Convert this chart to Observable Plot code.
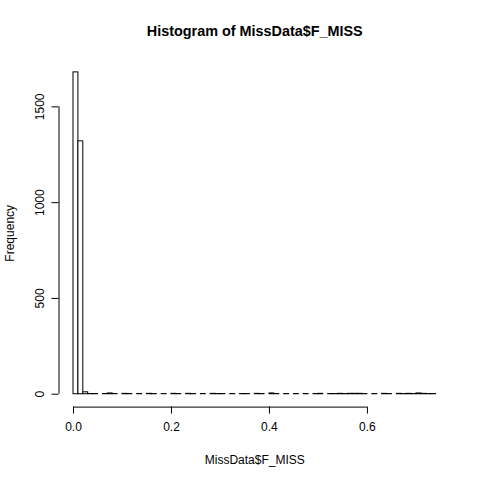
<!DOCTYPE html>
<html>
<head>
<meta charset="utf-8">
<script src="https://cdn.jsdelivr.net/npm/d3@7"></script>
<script src="https://cdn.jsdelivr.net/npm/@observablehq/plot@0.6"></script>
<style>
  html, body { margin: 0; padding: 0; background: white; }
</style>
</head>
<body>
<div id="chart"></div>
<script>
// Bin edges (F_MISS), width 0.01
const breaks = [
  0.00, 0.01, 0.02, 0.03, 0.04, 0.05, 0.06, 0.07, 0.08, 0.09,
  0.10, 0.11, 0.12, 0.13, 0.14, 0.15, 0.16, 0.17, 0.18, 0.19,
  0.20, 0.21, 0.22, 0.23, 0.24, 0.25, 0.26, 0.27, 0.28, 0.29,
  0.30, 0.31, 0.32, 0.33, 0.34, 0.35, 0.36, 0.37, 0.38, 0.39,
  0.40, 0.41, 0.42, 0.43, 0.44, 0.45, 0.46, 0.47, 0.48, 0.49,
  0.50, 0.51, 0.52, 0.53, 0.54, 0.55, 0.56, 0.57, 0.58, 0.59,
  0.60, 0.61, 0.62, 0.63, 0.64, 0.65, 0.66, 0.67, 0.68, 0.69,
  0.70, 0.71, 0.72, 0.73, 0.74
];
// Frequencies per bin
const counts = [
  1680, 1320, 10, 1, 1, 0, 1, 4, 1, 0,
  2, 1, 0, 1, 0, 2, 1, 0, 1, 0,
  2, 1, 0, 2, 1, 0, 1, 0, 2, 1,
  1, 0, 1, 0, 1, 1, 0, 2, 1, 0,
  4, 1, 0, 1, 0, 1, 0, 1, 0, 1,
  2, 0, 1, 1, 2, 1, 2, 2, 2, 1,
  0, 1, 0, 2, 1, 0, 2, 1, 2, 1,
  4, 2, 1, 1
];
const xTicks = [0, 0.2, 0.4, 0.6];
const yTicks = [0, 500, 1000, 1500];
const titleText = "Histogram of MissData$F_MISS";
const xLabel = "MissData$F_MISS";
const yLabel = "Frequency";

const bins = counts.map((c, i) => ({x1: breaks[i], x2: breaks[i + 1], count: c}));

const xr = [breaks[0], breaks[breaks.length - 1]];
const xpad = (xr[1] - xr[0]) * 0.04;
const xMin = xr[0] - xpad, xMax = xr[1] + xpad;
const ymax = d3.max(counts);
const yMin = -0.04 * ymax, yMax = 1.04 * ymax;

const font = "'Liberation Sans', Arial, Helvetica, sans-serif";

const chart = Plot.plot({
  width: 480,
  height: 480,
  marginLeft: 58.5,
  marginRight: 30,
  marginTop: 59,
  marginBottom: 73.4,
  style: {fontFamily: font, fontSize: "12px", background: "white", color: "black"},
  x: {domain: [xMin, xMax]},
  y: {domain: [yMin, yMax]},
  marks: [
    Plot.rectY(bins, {x1: "x1", x2: "x2", y1: 0, y2: "count", fill: "white", stroke: "black", strokeWidth: 1}),
    Plot.ruleY([yMin], {x1: xTicks[0], x2: xTicks[xTicks.length - 1], stroke: "black"}),
    Plot.ruleX([xMin], {y1: yTicks[0], y2: yTicks[yTicks.length - 1], stroke: "black"}),
    Plot.axisX({ticks: xTicks, tickSize: 7, tickPadding: 8, tickFormat: d3.format(".1f"), label: null, fontSize: 12}),
    Plot.axisY({ticks: yTicks, tickSize: 7, tickFormat: () => "", label: null}),
    Plot.text(yTicks, {y: d => d, frameAnchor: "left", dx: -18.5, rotate: -90, text: d => String(d),
      textAnchor: "middle", lineAnchor: "middle", fontSize: 12}),
    Plot.text([xLabel], {frameAnchor: "bottom", dy: 53.4, text: d => d, lineAnchor: "middle", fontSize: 12}),
    Plot.text([yLabel], {frameAnchor: "left", dx: -48.5, rotate: -90, text: d => d,
      textAnchor: "middle", lineAnchor: "middle", fontSize: 12}),
    Plot.text([titleText], {frameAnchor: "top", dy: -28, text: d => d, lineAnchor: "middle",
      fontSize: 14.4, fontWeight: "bold"})
  ]
});
document.getElementById("chart").appendChild(chart);
</script>
</body>
</html>
